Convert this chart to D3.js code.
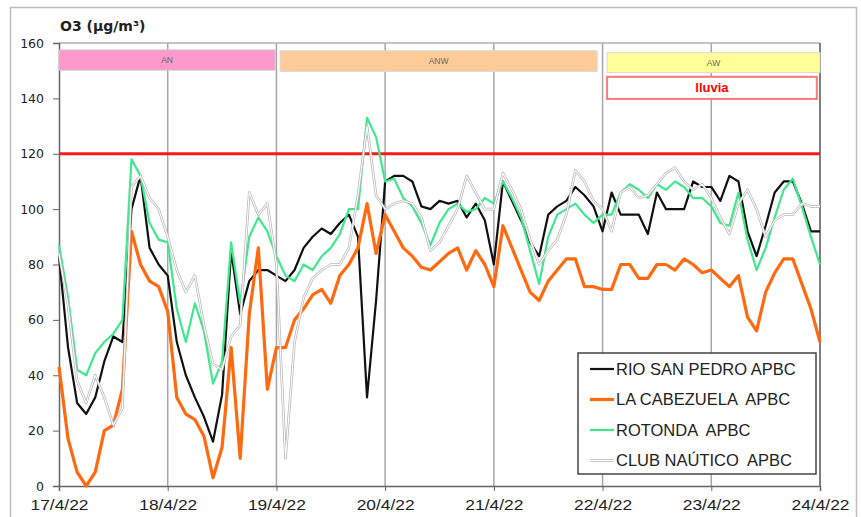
<!DOCTYPE html>
<html><head><meta charset="utf-8">
<script src="https://cdn.jsdelivr.net/npm/d3@7"></script>
<style>
html,body{margin:0;padding:0;background:#fff;}
svg{display:block;}
</style></head>
<body><svg id="c" width="861" height="517"></svg>
<script>
// ---- data (2-hour readings from 17/4/22 00:00 to 24/4/22 00:00) ----
const startDate = new Date(2022, 3, 17, 0, 0);
const stepHours = 2;
const xTickLabels = ["17/4/22","18/4/22","19/4/22","20/4/22","21/4/22","22/4/22","23/4/22","24/4/22"];
const yTicks = [0,20,40,60,80,100,120,140,160];
const seriesNames = ["RIO SAN PEDRO APBC","LA CABEZUELA  APBC","ROTONDA  APBC","CLUB NAÚTICO  APBC"];
const rioSanPedro = [83,50,30,26,32,45,54,52,100,112,86,80,76,52,40,32,25,16,33,85,62,74,78,78,76,74,78,86,90,93,91,95,98,90,32,67,110,112,112,110,101,100,103,102,103,97,102,96,80,110,103,96,88,83,98,101,103,108,105,101,92,106,98,98,98,91,106,100,100,100,110,108,108,103,112,110,92,83,94,106,110,110,102,92,92];
const laCabezuela = [43,17,5,0,5,20,22,35,92,80,74,72,63,32,26,24,18,3,14,50,10,62,86,35,50,50,60,64,69,71,66,76,80,86,102,84,98,92,86,83,79,78,81,84,86,78,85,80,72,94,86,78,70,67,74,78,82,82,72,72,71,71,80,80,75,75,80,80,78,82,80,77,78,75,72,76,61,56,70,77,82,82,73,64,52];
const rotonda = [87,68,42,40,48,52,55,60,118,112,95,89,88,64,52,66,56,37,45,88,66,90,97,92,83,76,74,80,78,83,86,91,100,100,133,126,110,111,104,101,95,87,95,100,102,99,100,104,102,110,104,97,85,73,90,98,100,102,98,95,98,98,106,109,107,104,109,107,110,108,104,104,101,95,94,106,89,78,86,97,107,111,101,90,80];
const clubNautico = [84,65,38,30,40,32,22,28,108,112,104,100,90,78,70,76,58,44,42,54,58,106,98,102,80,10,52,68,75,78,80,80,86,105,130,105,100,102,103,102,97,85,88,94,100,112,106,100,100,113,107,100,89,80,85,89,98,114,110,103,100,92,106,108,104,105,109,113,115,110,107,109,104,97,91,102,107,100,90,96,98,98,102,101,101];
const limitValue = 120;
// wind-direction / rain periods (hours from start, value band)
const periodLabels = ["AN","ANW","AW","lluvia"];
const periodStart = [0, 48.8, 121, 121];
const periodEnd = [47.7, 118.8, 168, 167.3];
const periodTop = [157.5, 157.2, 156.5, 147.8];
const periodBottom = [150.2, 149.7, 149.3, 139.8];

// ---- drawing ----
const svg = d3.select("#c");
const L = 59, R = 820, T = 43, B = 486;
const x = d3.scaleTime().domain([startDate, d3.timeHour.offset(startDate, 168)]).range([L, R]);
const y = d3.scaleLinear().domain([0, 160]).range([B, T]);
const tAt = i => d3.timeHour.offset(startDate, i * stepHours);

// outer frame
svg.append("rect").attr("x", 10.5).attr("y", 7.5).attr("width", 846).attr("height", 520)
  .attr("fill", "#fff").attr("stroke", "#bdbdbd").attr("stroke-width", 1.5);

// title
svg.append("text").attr("x", 60).attr("y", 31).text("O3 (µg/m³)")
  .attr("font-family", "DejaVu Sans, Verdana, sans-serif").attr("font-weight", "bold")
  .attr("font-size", 14).attr("fill", "#222");

// vertical day gridlines
const dayTicks = d3.range(0, 8).map(d => d3.timeDay.offset(startDate, d));
svg.append("g").selectAll("line").data(dayTicks.slice(1, 7)).join("line")
  .attr("x1", d => x(d)).attr("x2", d => x(d)).attr("y1", T).attr("y2", B)
  .attr("stroke", "#a6a6a6").attr("stroke-width", 1.5);
// top line
svg.append("line").attr("x1", L).attr("x2", R).attr("y1", T).attr("y2", T)
  .attr("stroke", "#b0b0b0").attr("stroke-width", 1.5);
// right border
svg.append("line").attr("x1", R).attr("x2", R).attr("y1", T).attr("y2", B)
  .attr("stroke", "#555").attr("stroke-width", 1.5);

// axes
const yAxis = d3.axisLeft(y).tickValues(yTicks).tickSize(6).tickPadding(9);
const gy = svg.append("g").attr("transform", `translate(${L},0)`).call(yAxis);
gy.select(".domain").attr("stroke", "#666").attr("stroke-width", 1.5);
gy.selectAll(".tick line").attr("stroke", "#666");
gy.selectAll("text").attr("font-family", "DejaVu Sans, Verdana, sans-serif").attr("font-size", 12.5).attr("fill", "#222");

const xAxis = d3.axisBottom(x).tickValues(dayTicks).tickSize(5).tickPadding(8)
  .tickFormat((d, i) => xTickLabels[i]);
const gx = svg.append("g").attr("transform", `translate(0,${B})`).call(xAxis);
gx.select(".domain").attr("stroke", "#666").attr("stroke-width", 1.5);
gx.selectAll(".tick line").attr("stroke", "#666");
gx.selectAll("text").attr("font-family", "Liberation Sans, Arial, sans-serif").attr("font-size", 15)
  .attr("fill", "#222").attr("textLength", 58).attr("lengthAdjust", "spacingAndGlyphs");

// period bars
const periodFill = ["#ff99cc", "#ffcc99", "#ffff99", "#ffffff"];
const periodStroke = ["#c8c8c8", "#d8d8d8", "#d8d8d8", "#ff7777"];
const gp = svg.append("g");
periodLabels.forEach((lab, i) => {
  const x0 = x(d3.timeMinute.offset(startDate, periodStart[i] * 60));
  const x1 = x(d3.timeMinute.offset(startDate, periodEnd[i] * 60));
  const y0 = y(periodTop[i]), y1 = y(periodBottom[i]);
  gp.append("rect").attr("x", x0).attr("y", y0).attr("width", x1 - x0).attr("height", y1 - y0)
    .attr("fill", periodFill[i]).attr("stroke", periodStroke[i]).attr("stroke-width", i === 3 ? 2 : 1);
  const isRain = i === 3;
  gp.append("text").attr("x", (x0 + x1) / 2).attr("y", (y0 + y1) / 2)
    .attr("dy", "0.35em").attr("text-anchor", "middle")
    .attr("font-family", "Liberation Sans, Arial, sans-serif")
    .attr("font-size", isRain ? 13 : 8.5).attr("font-weight", isRain ? "bold" : "normal")
    .attr("fill", isRain ? "#ff0000" : "#666").text(lab);
});

// limit line
svg.append("line").attr("x1", L).attr("x2", R).attr("y1", y(limitValue)).attr("y2", y(limitValue))
  .attr("stroke", "#ff1a1a").attr("stroke-width", 3.2);

// series lines
const line = d3.line().x((d, i) => x(tAt(i))).y(d => y(d));
const gl = svg.append("g").attr("fill", "none").attr("stroke-linejoin", "round");
gl.append("path").datum(rioSanPedro).attr("d", line).attr("stroke", "#111").attr("stroke-width", 2.2);
gl.append("path").datum(laCabezuela).attr("d", line).attr("stroke", "#ff6a10").attr("stroke-width", 3.2);
gl.append("path").datum(rotonda).attr("d", line).attr("stroke", "#3fe88c").attr("stroke-width", 2.2);
gl.append("path").datum(clubNautico).attr("d", line).attr("stroke", "#b8b8b8").attr("stroke-width", 2.6);
gl.append("path").datum(clubNautico).attr("d", line).attr("stroke", "#ffffff").attr("stroke-width", 1.1);

// legend
const lg = svg.append("g");
lg.append("rect").attr("x", 578).attr("y", 353).attr("width", 238).attr("height", 121)
  .attr("fill", "#fff").attr("stroke", "#444").attr("stroke-width", 1.5);
const legendStroke = [["#111", 2.2], ["#ff6a10", 3.2], ["#3fe88c", 2.2], ["#b8b8b8", 2.6]];
seriesNames.forEach((name, i) => {
  const yy = 369 + i * 30.5;
  lg.append("line").attr("x1", 590).attr("x2", 614).attr("y1", yy).attr("y2", yy)
    .attr("stroke", legendStroke[i][0]).attr("stroke-width", legendStroke[i][1]);
  if (i === 3) lg.append("line").attr("x1", 590).attr("x2", 614).attr("y1", yy).attr("y2", yy)
    .attr("stroke", "#fff").attr("stroke-width", 1.1);
  lg.append("text").attr("x", 616).attr("y", yy).attr("dy", "0.36em")
    .attr("font-family", "Liberation Sans, Arial, sans-serif").attr("font-size", 16.5)
    .attr("fill", "#222").style("white-space", "pre").text(name);
});
</script></body></html>
